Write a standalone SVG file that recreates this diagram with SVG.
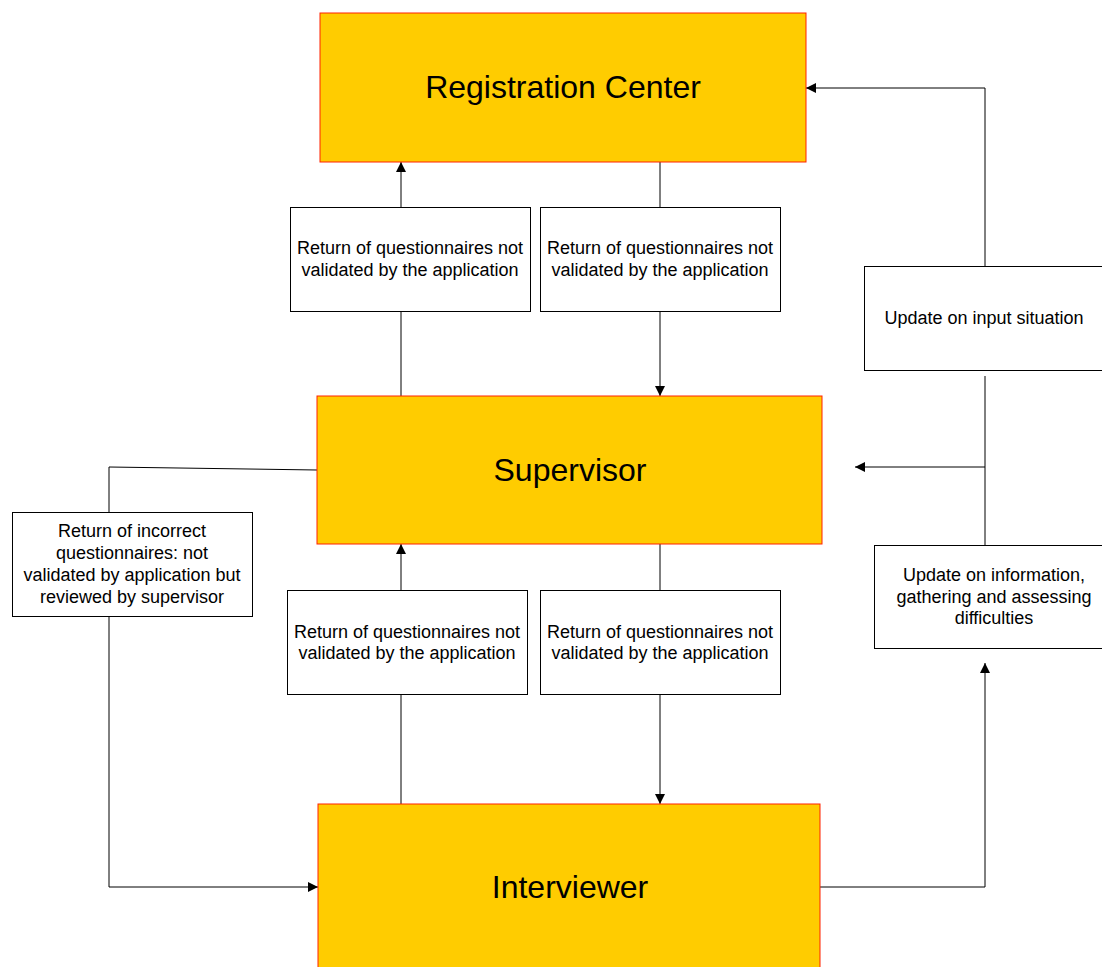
<svg xmlns="http://www.w3.org/2000/svg" width="1102" height="967" viewBox="0 0 1102 967">
<style>
.main{fill:#FFCC00;stroke:#FF2200;stroke-width:1}
.lbl{fill:#FFFFFF;stroke:#000;stroke-width:1}
.big{font-family:"Liberation Sans",Arial,sans-serif;font-size:32px;fill:#000;text-anchor:middle}
.sm{font-family:"Liberation Sans",Arial,sans-serif;font-size:18px;fill:#000;text-anchor:middle}
.c{fill:none;stroke:#000;stroke-width:1}
</style>
<defs>
<marker id="ah" viewBox="0 0 10 10" refX="10" refY="5" markerWidth="10" markerHeight="10" markerUnits="userSpaceOnUse" orient="auto">
<path d="M0,0 L10,5 L0,10 Z" fill="#000"/>
</marker>
</defs>
<rect width="1102" height="967" fill="#fff"/>
<g id="connectors">
<path class="c" d="M401,207 V162" marker-end="url(#ah)"/>
<path class="c" d="M401,311 V396"/>
<path class="c" d="M660,162 V207"/>
<path class="c" d="M660,311 V396" marker-end="url(#ah)"/>
<path class="c" d="M401,590 V544" marker-end="url(#ah)"/>
<path class="c" d="M401,694 V804"/>
<path class="c" d="M660,544 V590"/>
<path class="c" d="M660,694 V804" marker-end="url(#ah)"/>
<path class="c" d="M317,470 L109,467 V512"/>
<path class="c" d="M109,616 V887 H318" marker-end="url(#ah)"/>
<path class="c" d="M820,887 H985 V663" marker-end="url(#ah)"/>
<path class="c" d="M985,545 V376"/>
<path class="c" d="M985,467 H855" marker-end="url(#ah)"/>
<path class="c" d="M985,266 V88 H806" marker-end="url(#ah)"/>
</g>
<g id="registration-center">
<rect class="main" x="320" y="13" width="486" height="149"/>
<text class="big" x="563" y="98">Registration Center</text>
</g>
<g id="supervisor">
<rect class="main" x="317" y="396" width="505" height="148"/>
<text class="big" x="570" y="481">Supervisor</text>
</g>
<g id="interviewer">
<rect class="main" x="318" y="804" width="502" height="170"/>
<text class="big" x="570" y="898">Interviewer</text>
</g>
<g id="label-rc-up">
<rect class="lbl" x="290.5" y="207.5" width="240" height="104"/>
<text class="sm" x="410" y="254">Return of questionnaires not</text>
<text class="sm" x="410" y="276">validated by the application</text>
</g>
<g id="label-rc-down">
<rect class="lbl" x="540.5" y="207.5" width="240" height="104"/>
<text class="sm" x="660" y="254">Return of questionnaires not</text>
<text class="sm" x="660" y="276">validated by the application</text>
</g>
<g id="label-sup-up">
<rect class="lbl" x="287.5" y="590.5" width="240" height="104"/>
<text class="sm" x="407" y="638">Return of questionnaires not</text>
<text class="sm" x="407" y="659">validated by the application</text>
</g>
<g id="label-sup-down">
<rect class="lbl" x="540.5" y="590.5" width="240" height="104"/>
<text class="sm" x="660" y="638">Return of questionnaires not</text>
<text class="sm" x="660" y="659">validated by the application</text>
</g>
<g id="label-incorrect">
<rect class="lbl" x="12.5" y="512.5" width="240" height="104"/>
<text class="sm" x="132" y="537">Return of incorrect</text>
<text class="sm" x="132" y="559">questionnaires: not</text>
<text class="sm" x="132" y="581">validated by application but</text>
<text class="sm" x="132" y="603">reviewed by supervisor</text>
</g>
<g id="label-input">
<rect class="lbl" x="864.5" y="266.5" width="242" height="104"/>
<text class="sm" x="984" y="324">Update on input situation</text>
</g>
<g id="label-info">
<rect class="lbl" x="874.5" y="545.5" width="240" height="103"/>
<text class="sm" x="994" y="581">Update on information,</text>
<text class="sm" x="994" y="603">gathering and assessing</text>
<text class="sm" x="994" y="624">difficulties</text>
</g>
</svg>
